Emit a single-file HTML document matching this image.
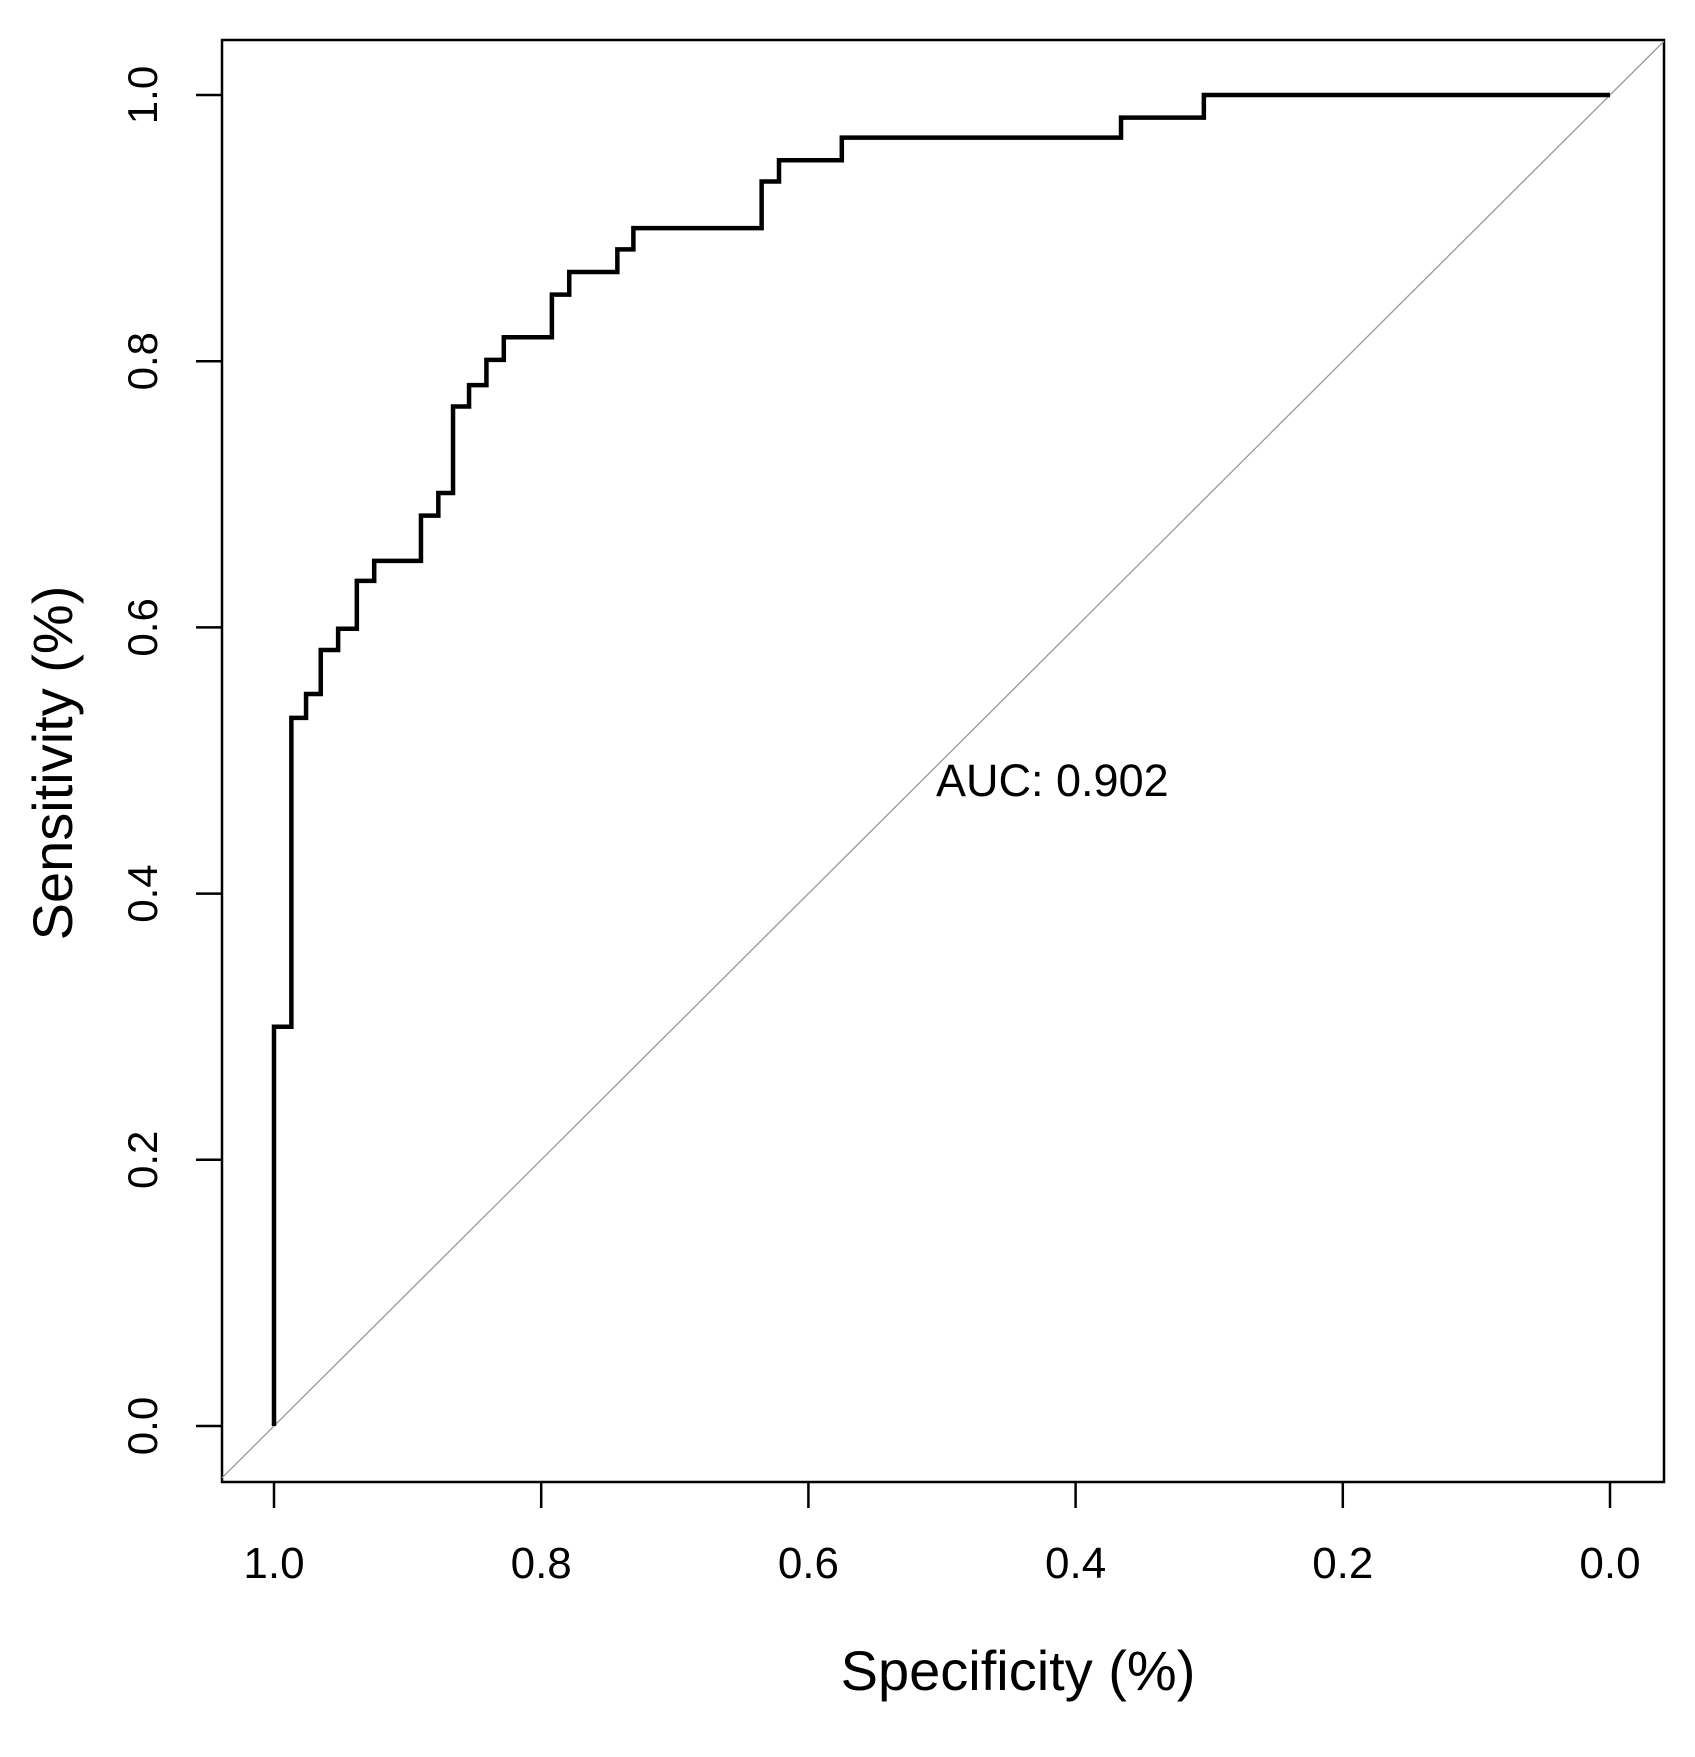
<!DOCTYPE html>
<html><head><meta charset="utf-8"><style>
html,body{margin:0;padding:0;background:#fff;}
svg{display:block;font-family:"Liberation Sans",sans-serif;}
</style></head><body>
<svg id="chart" width="1695" height="1757" viewBox="0 0 1695 1757" xmlns="http://www.w3.org/2000/svg">
<rect x="222" y="40" width="1442" height="1442" fill="none" stroke="#000" stroke-width="2.5"/>
<g id="g"></g>
<text x="1018" y="1690" font-size="56" text-anchor="middle">Specificity (%)</text>
<text transform="translate(72,763) rotate(-90)" font-size="56" text-anchor="middle">Sensitivity (%)</text>
<text x="936" y="796" font-size="45">AUC: 0.902</text>
</svg>
<script>
const specValues=[1.0,1.0,0.987,0.987,0.976,0.976,0.965,0.965,0.952,0.952,0.938,0.938,0.925,0.925,0.890,0.890,0.877,0.877,0.866,0.866,0.854,0.854,0.841,0.841,0.828,0.828,0.792,0.792,0.779,0.779,0.743,0.743,0.731,0.731,0.635,0.635,0.622,0.622,0.575,0.575,0.366,0.366,0.304,0.304,0.0];
const sensValues=[0.0,0.300,0.300,0.532,0.532,0.550,0.550,0.583,0.583,0.599,0.599,0.635,0.635,0.650,0.650,0.684,0.684,0.701,0.701,0.766,0.766,0.782,0.782,0.801,0.801,0.818,0.818,0.850,0.850,0.867,0.867,0.884,0.884,0.900,0.900,0.935,0.935,0.951,0.951,0.968,0.968,0.983,0.983,1.0,1.0];
const xTicks=[1.0,0.8,0.6,0.4,0.2,0.0];
const xTickLabels=["1.0","0.8","0.6","0.4","0.2","0.0"];
const yTicks=[0.0,0.2,0.4,0.6,0.8,1.0];
const yTickLabels=["0.0","0.2","0.4","0.6","0.8","1.0"];
const NS="http://www.w3.org/2000/svg";
function xs(v){return 1610-(1610-274)*v;}
function ys(v){return 1426-(1426-95)*v;}
const g=document.getElementById('g');
function mk(t,a){const e=document.createElementNS(NS,t);for(const k in a)e.setAttribute(k,a[k]);g.appendChild(e);return e;}
const a=(274-222)/1336, b=(1664-1610)/1336;
const d=mk('line',{x1:xs(1+a),y1:ys(-a),x2:xs(-b),y2:ys(1+b),stroke:'#999','stroke-width':1.3});


xTicks.forEach((v,i)=>{
 const t=mk('line',{x1:xs(v),x2:xs(v),y1:1482,y2:1508,stroke:'#000','stroke-width':2.5});
 
 
 const l=mk('text',{x:xs(v),y:1578,'font-size':44,'text-anchor':'middle'});
 l.textContent=xTickLabels[i];
 
 
});
yTicks.forEach((v,i)=>{
 const t=mk('line',{x1:196,x2:222,y1:ys(v),y2:ys(v),stroke:'#000','stroke-width':2.5});
 
 
 const l=mk('text',{transform:`translate(157,${ys(v)}) rotate(-90)`,'font-size':42,'text-anchor':'middle'});
 l.textContent=yTickLabels[i];
 
 
});
const pts=specValues.map((s,i)=>xs(s)+','+ys(sensValues[i])).join(' ');
const c=mk('polyline',{points:pts,fill:'none',stroke:'#000','stroke-width':4.5,'stroke-linejoin':'miter'});


</script>
</body></html>
